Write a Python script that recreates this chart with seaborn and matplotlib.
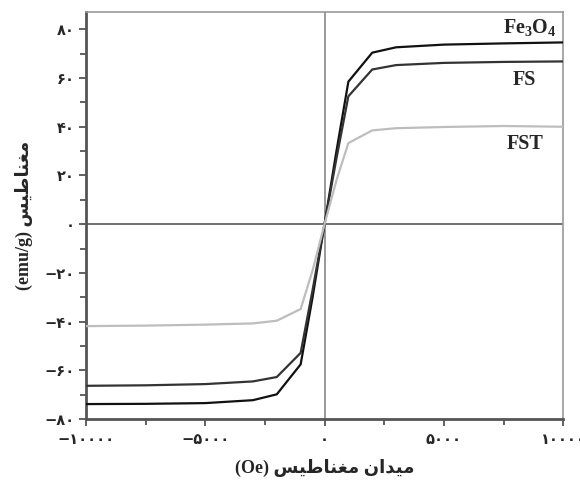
import numpy as np
import pandas as pd
import matplotlib
matplotlib.use("Agg")
import matplotlib.pyplot as plt
from matplotlib.ticker import MultipleLocator, FixedLocator
import seaborn as sns

# ---- data ----
field = [-10000, -7500, -5000, -3000, -2000, -1000, -500, 0, 500, 1000, 2000, 3000, 5000, 7500, 10000]
fe3o4 = [-73.8, -73.7, -73.4, -72.2, -69.8, -57.5, -30.0, 0.0, 30.0, 58.5, 70.4, 72.6, 73.7, 74.2, 74.6]
fs = [-66.3, -66.1, -65.6, -64.5, -62.7, -52.8, -27.0, 0.0, 27.0, 52.5, 63.5, 65.3, 66.2, 66.6, 66.8]
fst = [-41.8, -41.6, -41.2, -40.7, -39.6, -34.8, -19.0, 0.0, 18.0, 33.3, 38.5, 39.4, 39.9, 40.3, 40.0]
series_names = ["Fe3O4", "FS", "FST"]
series_labels = ["Fe$_3$O$_4$", "FS", "FST"]

x_ticks = [-10000, -5000, 0, 5000, 10000]
x_tick_labels = ["\u2212\u06f1\u06f0\u06f0\u06f0\u06f0", "\u2212\u06f5\u06f0\u06f0\u06f0", "\u06f0",
                 "\u06f5\u06f0\u06f0\u06f0", "\u06f1\u06f0\u06f0\u06f0\u06f0"]
y_ticks = [-80, -60, -40, -20, 0, 20, 40, 60, 80]
y_tick_labels = ["\u2212\u06f8\u06f0", "\u2212\u06f6\u06f0", "\u2212\u06f4\u06f0", "\u2212\u06f2\u06f0",
                 "\u06f0", "\u06f2\u06f0", "\u06f4\u06f0", "\u06f6\u06f0", "\u06f8\u06f0"]

# Persian words in visual (left-to-right) order using presentation forms
magnet = "\ufeb2\ufef4\ufec3\ufe8e\ufee8\ufed0\ufee3"   # مغناطیس
field_w = "\ufee5\ufe8d\ufeaa\ufef4\ufee3"              # میدان
x_label = "(Oe) " + magnet + " " + field_w
y_label = "(emu/g) " + magnet

df = pd.DataFrame({
    "field": field * 3,
    "m": fe3o4 + fs + fst,
    "sample": sum([[n] * len(field) for n in series_names], []),
})

sns.set_theme(style="white")
plt.rcParams["font.family"] = ["Liberation Serif", "DejaVu Sans"]
plt.rcParams["mathtext.fontset"] = "custom"
plt.rcParams["mathtext.rm"] = "Liberation Serif:bold"
plt.rcParams["mathtext.it"] = "Liberation Serif:bold"
plt.rcParams["mathtext.bf"] = "Liberation Serif:bold"
plt.rcParams["mathtext.default"] = "rm"

fig = plt.figure(figsize=(5.8, 4.88), dpi=100)
ax = fig.add_axes([0.148, 0.141, 0.823, 0.834])

palette = {"Fe3O4": "#111111", "FS": "#333333", "FST": "#bdbdbd"}
ax.axhline(0, color="#555555", lw=1.2, zorder=1)
ax.axvline(0, color="#888888", lw=1.2, zorder=1)
sns.lineplot(data=df, x="field", y="m", hue="sample", palette=palette,
             estimator=None, sort=False, legend=False, lw=1.6, ax=ax, zorder=3)

ax.set_xlim(-10000, 10000)
ax.set_ylim(-80, 87)
ax.xaxis.set_major_locator(FixedLocator(x_ticks))
ax.xaxis.set_minor_locator(MultipleLocator(2500))
ax.yaxis.set_major_locator(FixedLocator(y_ticks))
ax.yaxis.set_minor_locator(MultipleLocator(10))
ax.set_xticklabels(x_tick_labels, family="DejaVu Sans", fontweight="bold", fontsize=10.5)
ax.set_yticklabels(y_tick_labels, family="DejaVu Sans", fontweight="bold", fontsize=10.5)
ax.tick_params(axis="both", which="both", direction="out", color="#555555",
               bottom=True, left=True, width=1.3)
ax.tick_params(axis="x", which="major", length=5, pad=4)
ax.tick_params(axis="y", which="major", length=5, pad=3)
ax.tick_params(axis="both", which="minor", length=4)

for side in ["left", "bottom"]:
    ax.spines[side].set_color("#555555")
    ax.spines[side].set_linewidth(2.0)
for side in ["top", "right"]:
    ax.spines[side].set_color("#999999")
    ax.spines[side].set_linewidth(1.2)

ax.set_xlabel(x_label, fontsize=13, fontweight="bold", labelpad=9)
ax.set_ylabel(y_label, fontsize=13, fontweight="bold", labelpad=8)

ends = {"Fe3O4": (530, 27), "FS": (524, 80), "FST": (525, 144)}
for name, lab in zip(series_names, series_labels):
    px, py = ends[name]
    fx = px / 580
    fy = 1 - py / 488
    bbox = dict(facecolor="white", edgecolor="none", pad=1) if name == "Fe3O4" else None
    fig.text(fx, fy, lab, ha="center", va="center", fontsize=14.5, fontweight="bold",
             family="Liberation Serif", bbox=bbox, zorder=5)

fig.savefig("out.png", dpi=100)
